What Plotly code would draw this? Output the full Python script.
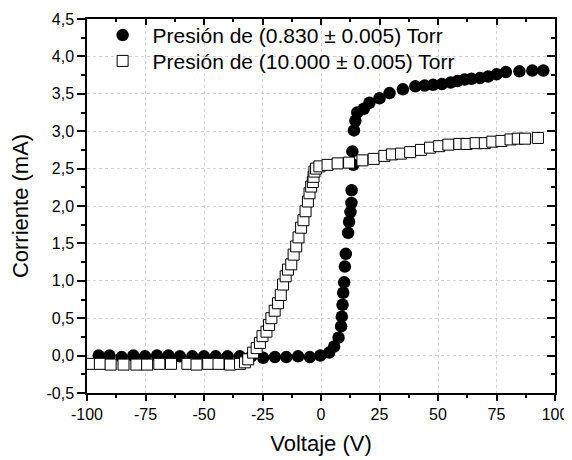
import plotly.graph_objects as go

# ---- data ----
circle_v = [-95.0, -90.4, -85.2, -80.2, -75.2, -70.1, -65.2, -60.3, -55.0, -50.0,
            -45.0, -39.9, -34.7, -29.8, -24.7, -19.7, -14.8, -9.8, -4.8, -0.3,
            3.5, 5.6, 7.5, 8.6, 8.9, 9.2, 9.5, 9.9, 10.2, 10.6,
            11.6, 12.0, 12.6, 13.0, 13.1, 13.8, 13.4, 14.1, 14.7, 15.5,
            18.3, 20.7, 25.0, 29.3, 35.0, 40.3, 44.3, 47.9, 51.7, 55.4,
            58.3, 61.4, 64.3, 67.9, 71.4, 75.0, 79.0, 84.8, 90.3, 95.0]
circle_i = [0.00, 0.00, -0.02, 0.00, -0.01, 0.00, 0.00, -0.01, -0.01, -0.01,
            -0.01, -0.01, -0.01, -0.01, -0.03, -0.02, -0.02, -0.01, -0.02, 0.00,
            0.04, 0.12, 0.24, 0.39, 0.52, 0.68, 0.84, 0.98, 1.19, 1.36,
            1.64, 1.79, 1.92, 2.04, 2.21, 2.55, 2.73, 3.01, 3.14, 3.25,
            3.30, 3.38, 3.44, 3.51, 3.56, 3.60, 3.61, 3.62, 3.63, 3.65,
            3.67, 3.69, 3.70, 3.71, 3.73, 3.76, 3.79, 3.80, 3.81, 3.81]

square_v = [-98.8, -94.5, -89.9, -84.4, -78.9, -74.3, -69.1, -64.1, -57.1, -53.2,
            -48.2, -43.8, -38.9, -34.6, -32.5, -31.1, -29.0, -27.5, -26.1, -25.0,
            -23.3, -22.2, -21.2, -19.8, -18.4, -17.2, -16.2, -15.1, -14.1, -12.7,
            -11.7, -10.6, -9.6, -8.5, -7.5, -6.6, -5.6, -4.9, -4.2, -3.5,
            -3.2, -2.8, -2.1, -0.7, 2.8, 7.1, 12.0, 17.7, 22.5, 27.1,
            30.3, 34.2, 38.1, 42.7, 46.6, 50.5, 54.4, 59.1, 62.2, 66.1,
            70.0, 73.2, 77.1, 81.0, 84.1, 87.2, 92.7]
square_i = [-0.11, -0.11, -0.12, -0.12, -0.12, -0.12, -0.11, -0.11, -0.11, -0.12,
            -0.11, -0.11, -0.12, -0.11, -0.09, -0.05, 0.04, 0.10, 0.17, 0.26,
            0.32, 0.41, 0.50, 0.60, 0.70, 0.81, 0.95, 1.06, 1.15, 1.22,
            1.35, 1.46, 1.58, 1.71, 1.81, 1.93, 2.06, 2.17, 2.26, 2.32,
            2.39, 2.46, 2.50, 2.53, 2.55, 2.57, 2.58, 2.61, 2.63, 2.67,
            2.69, 2.70, 2.72, 2.75, 2.78, 2.80, 2.82, 2.83, 2.83, 2.84,
            2.84, 2.86, 2.87, 2.89, 2.90, 2.90, 2.91]

series_names = ["Presión de (0.830 ± 0.005) Torr", "Presión de (10.000 ± 0.005) Torr"]

x_ticks = [-100, -75, -50, -25, 0, 25, 50, 75, 100]
x_labels = ["-100", "-75", "-50", "-25", "0", "25", "50", "75", "100"]
y_ticks = [-0.5, 0.0, 0.5, 1.0, 1.5, 2.0, 2.5, 3.0, 3.5, 4.0, 4.5]
y_labels = ["-0,5", "0,0", "0,5", "1,0", "1,5", "2,0", "2,5", "3,0", "3,5", "4,0", "4,5"]

x_range = [-100, 100]
y_range = [-0.5, 4.5]

FONT = "Liberation Sans, Arial, sans-serif"

fig = go.Figure()
fig.add_trace(go.Scatter(
    x=circle_v, y=circle_i, mode="markers", name=series_names[0], legend="legend",
    marker=dict(symbol="circle", size=12.5, color="black", line=dict(width=0)),
))
fig.add_trace(go.Scatter(
    x=square_v, y=square_i, mode="markers", name=series_names[1], legend="legend2",
    marker=dict(symbol="square", size=11, color="white", line=dict(width=1, color="black")),
))
# invisible trace to carry the mirrored (top/right) axes with inward ticks
fig.add_trace(go.Scatter(
    x=circle_v[:1], y=circle_i[:1], xaxis="x2", yaxis="y2", mode="markers",
    marker=dict(opacity=0), showlegend=False, hoverinfo="skip",
))

axis_common = dict(
    showline=True, linecolor="black", linewidth=1.5,
    ticks="outside", tickwidth=1.5, tickcolor="black",
    showgrid=True, gridcolor="#d2d2d2", gridwidth=1, griddash="dot",
    zeroline=False, tickfont=dict(family=FONT, size=16, color="black"),
    mirror=True, automargin=False,
)

legend_common = dict(
    xanchor="left", yanchor="middle",
    bgcolor="rgba(0,0,0,0)", borderwidth=0,
    font=dict(family=FONT, size=21, color="black"),
    itemwidth=50,
)

# the page body adds an 8 px offset, so the figure is 8 px smaller and margins shifted
fig.update_layout(
    template="none",
    width=564, height=452,
    margin=dict(l=79, r=17, t=7, b=67, pad=0),
    paper_bgcolor="white", plot_bgcolor="white",
    font=dict(family=FONT, color="black"),
    xaxis=dict(
        **axis_common, range=x_range, tickmode="array", tickvals=x_ticks, ticktext=x_labels,
        ticklen=6,
        minor=dict(tickmode="linear", tick0=-87.5, dtick=25, ticks="outside", ticklen=3,
                   tickwidth=1.5, tickcolor="black", showgrid=False),
        title=dict(text="Voltaje (V)", font=dict(family=FONT, size=22, color="black"), standoff=14),
    ),
    yaxis=dict(
        **axis_common, range=y_range, tickmode="array", tickvals=y_ticks, ticktext=y_labels,
        ticklen=8,
        minor=dict(tickmode="linear", tick0=-0.25, dtick=0.5, ticks="outside", ticklen=4,
                   tickwidth=1.5, tickcolor="black", showgrid=False),
        title=dict(text="Corriente (mA)", font=dict(family=FONT, size=22, color="black"), standoff=12),
    ),
    xaxis2=dict(
        overlaying="x", side="top", anchor="y", range=x_range, showline=False,
        tickmode="array", tickvals=x_ticks, showticklabels=False,
        ticks="inside", ticklen=6, tickwidth=1.5, tickcolor="black",
        minor=dict(tickmode="linear", tick0=-87.5, dtick=25, ticks="inside", ticklen=3,
                   tickwidth=1.5, tickcolor="black", showgrid=False),
        showgrid=False, zeroline=False, automargin=False,
    ),
    yaxis2=dict(
        overlaying="y", side="right", anchor="x", range=y_range, showline=False,
        tickmode="array", tickvals=y_ticks, showticklabels=False,
        ticks="inside", ticklen=8, tickwidth=1.5, tickcolor="black",
        minor=dict(tickmode="linear", tick0=-0.25, dtick=0.5, ticks="inside", ticklen=4,
                   tickwidth=1.5, tickcolor="black", showgrid=False),
        showgrid=False, zeroline=False, automargin=False,
    ),
    legend=dict(**legend_common, x=0.012, y=0.956),
    legend2=dict(**legend_common, x=0.012, y=0.887),
    showlegend=True,
)

fig.write_html("out.html")
